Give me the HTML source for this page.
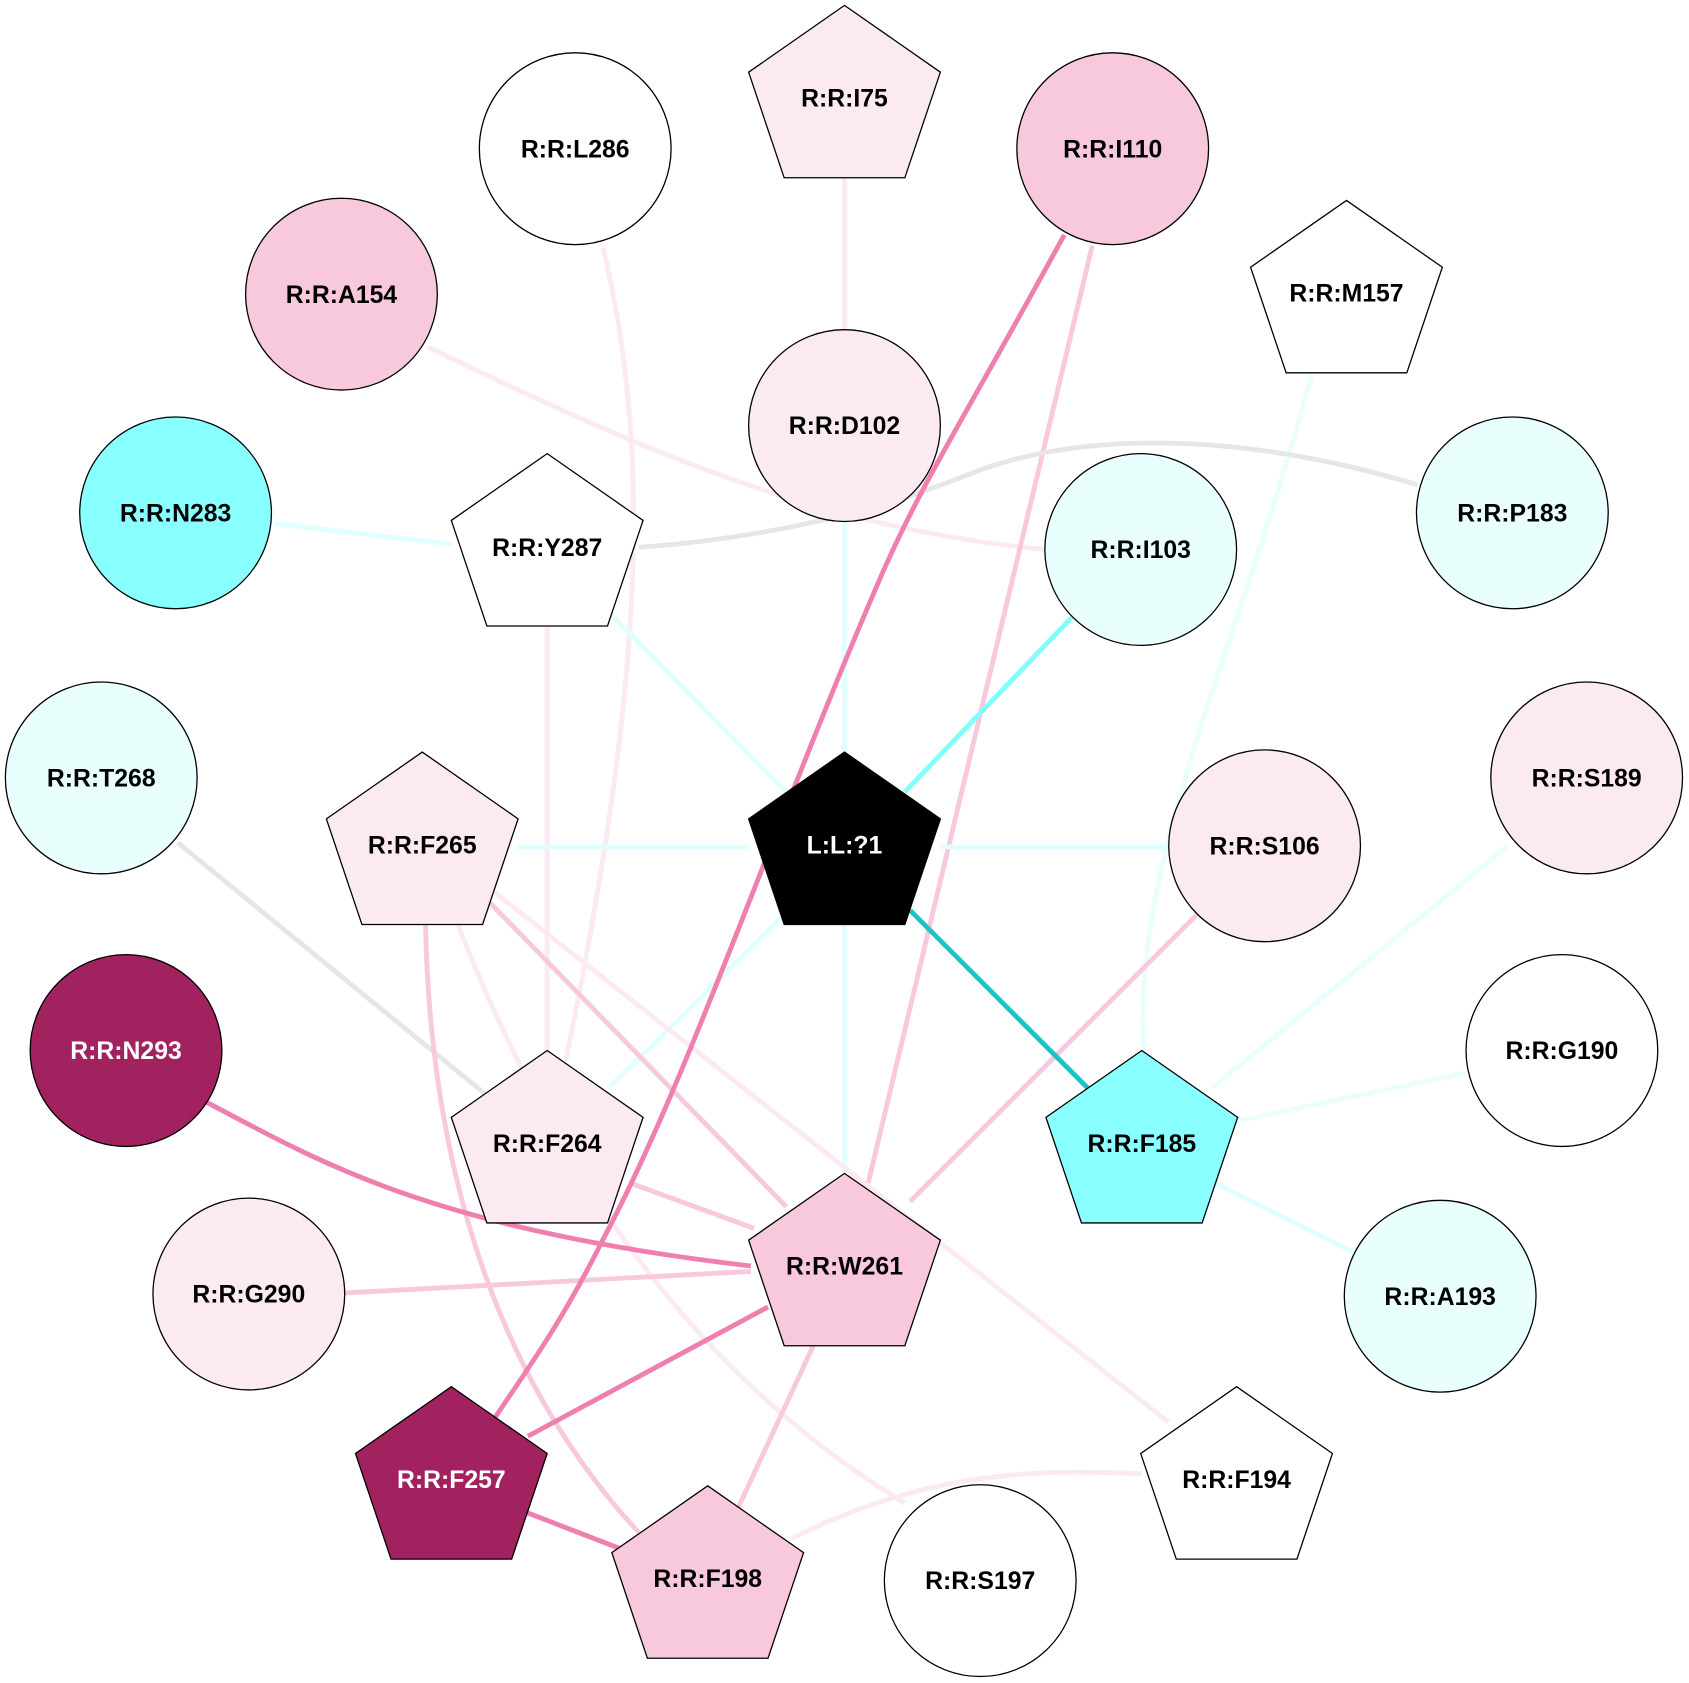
<!DOCTYPE html>
<html><head><meta charset="utf-8"><style>html,body{margin:0;padding:0;background:#fff}svg{display:block}</style></head>
<body>
<svg width="1689" height="1683" viewBox="0 0 1568 1562" preserveAspectRatio="none" xmlns="http://www.w3.org/2000/svg">
<defs>
<polygon id="pg" points="0,-88 89,-26 56,72 -56,72 -89,-26"/>
</defs>
<g fill="none" stroke-width="4.5" stroke-linecap="butt">
<path d="M784,165 L784,306" stroke="#fbeaf2"/>
<path d="M560,230 C600,400 605,600 525,985" stroke="#fbeaf2"/>
<path d="M397,322 C600,420 760,490 970,510" stroke="#fbeaf2"/>
<path d="M1014,228 L806,1098" stroke="#f8c8dc"/>
<path d="M1218,347 C1150,600 1050,800 1062,975" stroke="#e8fffe"/>
<path d="M1316,450 C1150,400 1000,400 900,440 C800,480 700,500 593,508" stroke="#e6e6e6"/>
<path d="M255,486 L420,505" stroke="#e0ffff"/>
<path d="M784,485 L784,697" stroke="#e0ffff"/>
<path d="M995,573 L840,735" stroke="#80ffff"/>
<path d="M570,573 L730,735" stroke="#e0ffff"/>
<path d="M508,582 L508,974" stroke="#fbeaf2"/>
<path d="M480,786 L695,786" stroke="#e0ffff"/>
<path d="M873,786 L1085,786" stroke="#e0ffff"/>
<path d="M725,852 L565,1010" stroke="#e0ffff"/>
<path d="M784,858 L784,1088" stroke="#e0ffff"/>
<path d="M165,782 L450,1015" stroke="#e6e6e6"/>
<path d="M455,838 L730,1120" stroke="#f8c8dc"/>
<path d="M395,858 C400,1100 470,1300 610,1440" stroke="#f8c8dc"/>
<path d="M425,858 C520,1100 650,1280 840,1395" stroke="#fbeaf2"/>
<path d="M455,825 L1085,1320" stroke="#fbeaf2"/>
<path d="M1112,848 L845,1115" stroke="#f8c8dc"/>
<path d="M1400,785 L1125,1010" stroke="#e8fffe"/>
<path d="M1360,996 L1150,1040" stroke="#e8fffe"/>
<path d="M1128,1098 L1256,1162" stroke="#e0ffff"/>
<path d="M585,1098 L700,1140" stroke="#f8c8dc"/>
<path d="M320,1200 L697,1180" stroke="#f8c8dc"/>
<path d="M755,1249 L685,1400" stroke="#f8c8dc"/>
<path d="M735,1428 C850,1370 950,1362 1060,1368" stroke="#fbeaf2"/>
<path d="M845,845 L1010,1010" stroke="#1cc4c8"/>
<path d="M988,218 C900,380 860,440 820,530 C720,760 640,1000 560,1150 C520,1230 490,1270 460,1315" stroke="#ef7fae"/>
<path d="M190,1022 C300,1080 400,1140 697,1175" stroke="#ef7fae"/>
<path d="M713,1213 L490,1333" stroke="#ef7fae"/>
<path d="M487,1403 L575,1437" stroke="#ef7fae"/>
</g>
<g stroke="#000" stroke-width="1.2">
<circle cx="534" cy="138" r="89" fill="#fff"/>
<circle cx="1033" cy="138" r="89" fill="#f8c8dc"/>
<circle cx="317" cy="273" r="89" fill="#f8c8dc"/>
<circle cx="784" cy="395" r="89" fill="#fbeaf2"/>
<circle cx="163" cy="476" r="89" fill="#8affff"/>
<circle cx="1059" cy="510" r="89" fill="#e8fffe"/>
<circle cx="1404" cy="476" r="89" fill="#e8fffe"/>
<circle cx="94" cy="722" r="89" fill="#e8fffe"/>
<circle cx="1473" cy="722" r="89" fill="#fbeaf2"/>
<circle cx="1174" cy="785" r="89" fill="#fbeaf2"/>
<circle cx="117" cy="975" r="89" fill="#a1225e"/>
<circle cx="1450" cy="975" r="89" fill="#fff"/>
<circle cx="231" cy="1201" r="89" fill="#fbeaf2"/>
<circle cx="1337" cy="1203" r="89" fill="#e8fffe"/>
<circle cx="910" cy="1467" r="89" fill="#fff"/>
<use href="#pg" x="784" y="93" fill="#fbeaf2"/>
<use href="#pg" x="1250" y="274" fill="#fff"/>
<use href="#pg" x="508" y="509" fill="#fff"/>
<use href="#pg" x="392" y="786" fill="#fbeaf2"/>
<use href="#pg" x="784" y="786" fill="#000"/>
<use href="#pg" x="508" y="1063" fill="#fbeaf2"/>
<use href="#pg" x="1060" y="1063" fill="#8affff"/>
<use href="#pg" x="784" y="1177" fill="#f8c8dc"/>
<use href="#pg" x="419" y="1375" fill="#a1225e"/>
<use href="#pg" x="657" y="1467" fill="#f8c8dc"/>
<use href="#pg" x="1148" y="1375" fill="#fff"/>
</g>
<g font-family="'Liberation Sans', Arial, sans-serif" font-weight="bold" font-size="23" text-anchor="middle" fill="#000">
<text x="534" y="146">R:R:L286</text>
<text x="1033" y="146">R:R:I110</text>
<text x="317" y="281">R:R:A154</text>
<text x="784" y="403">R:R:D102</text>
<text x="163" y="484">R:R:N283</text>
<text x="1059" y="518">R:R:I103</text>
<text x="1404" y="484">R:R:P183</text>
<text x="94" y="730">R:R:T268</text>
<text x="1473" y="730">R:R:S189</text>
<text x="1174" y="793">R:R:S106</text>
<text x="117" y="983" fill="#fff">R:R:N293</text>
<text x="1450" y="983">R:R:G190</text>
<text x="231" y="1209">R:R:G290</text>
<text x="1337" y="1211">R:R:A193</text>
<text x="910" y="1475">R:R:S197</text>
<text x="784" y="99">R:R:I75</text>
<text x="1250" y="280">R:R:M157</text>
<text x="508" y="516">R:R:Y287</text>
<text x="392" y="792">R:R:F265</text>
<text x="784" y="792" fill="#fff">L:L:?1</text>
<text x="508" y="1069">R:R:F264</text>
<text x="1060" y="1069">R:R:F185</text>
<text x="784" y="1183">R:R:W261</text>
<text x="419" y="1381" fill="#fff">R:R:F257</text>
<text x="657" y="1473">R:R:F198</text>
<text x="1148" y="1381">R:R:F194</text>
</g>
</svg>
</body></html>
